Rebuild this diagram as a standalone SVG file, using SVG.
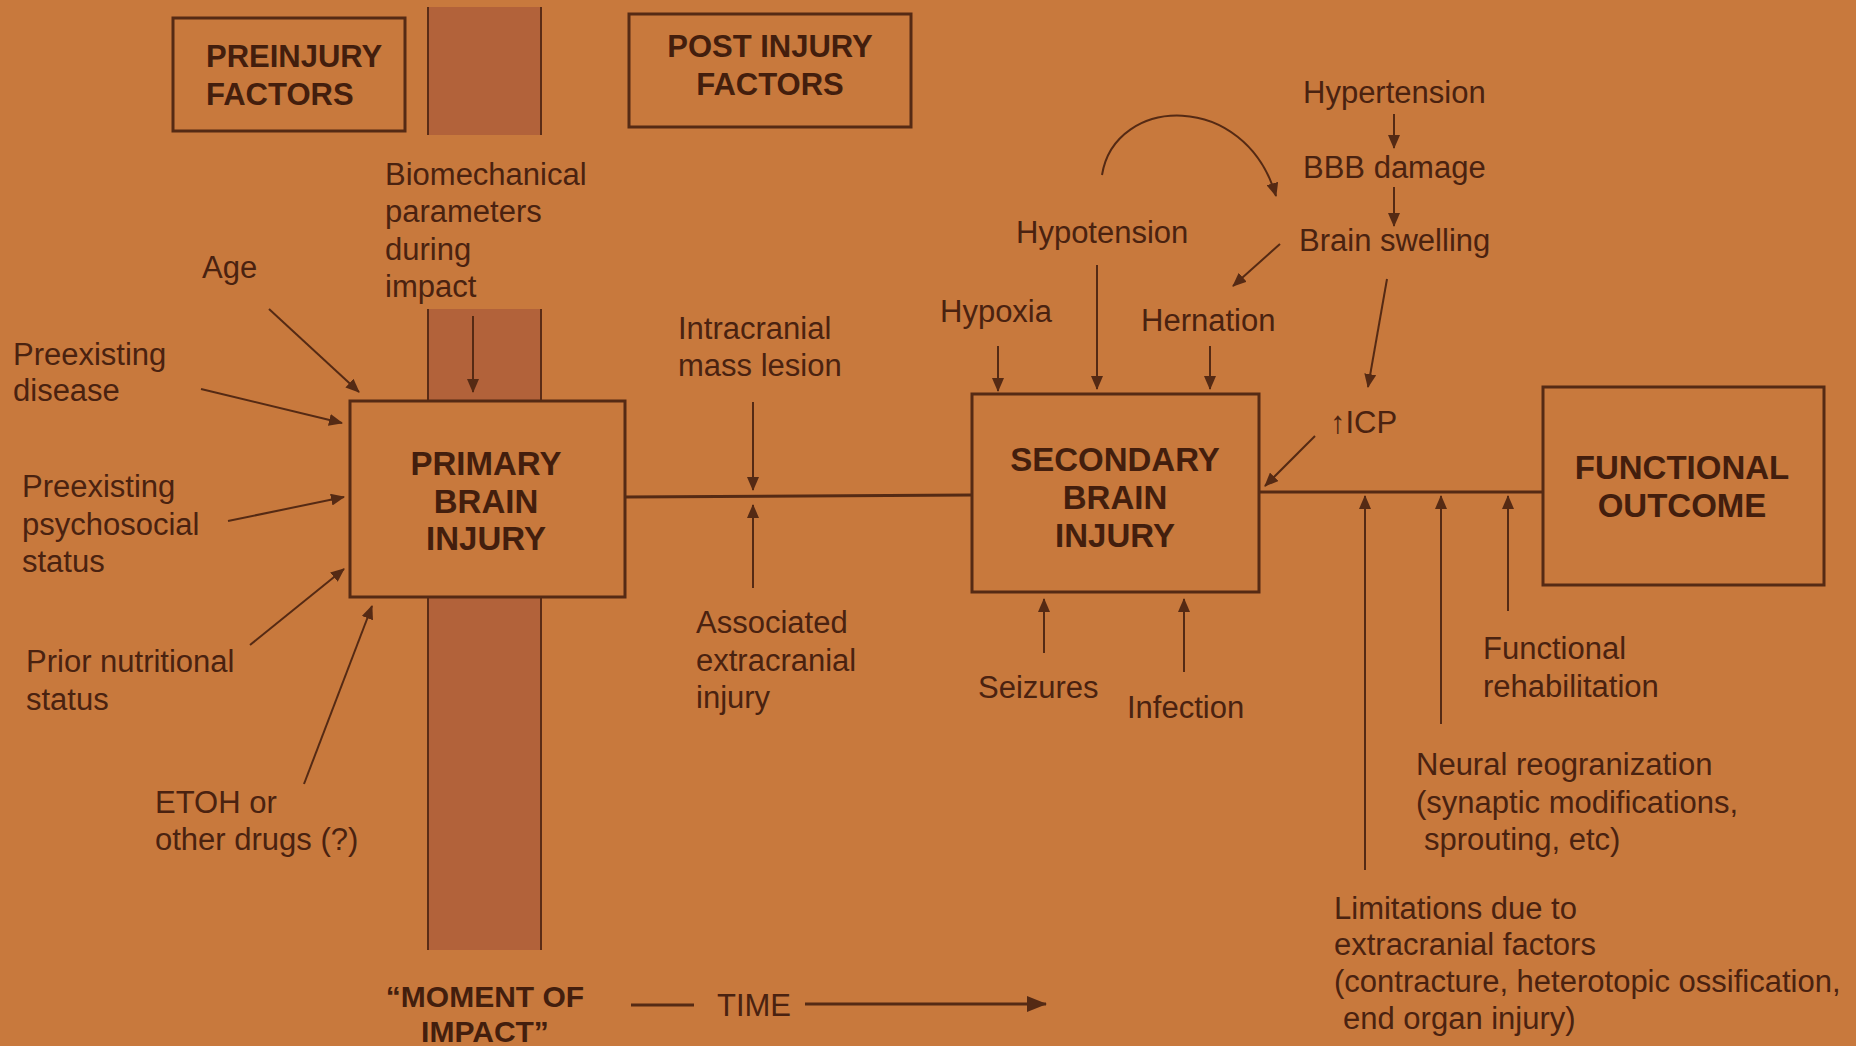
<svg xmlns="http://www.w3.org/2000/svg" width="1856" height="1046" viewBox="0 0 1856 1046">
  <defs>
    <marker id="ah" viewBox="0 0 14 12" refX="13" refY="6" markerWidth="14" markerHeight="12" markerUnits="userSpaceOnUse" orient="auto">
      <path d="M0,0 L14,6 L0,12 Z" fill="#552a14"/>
    </marker>
    <marker id="ahBig" viewBox="0 0 20 16" refX="19" refY="8" markerWidth="20" markerHeight="16" markerUnits="userSpaceOnUse" orient="auto">
      <path d="M0,0 L20,8 L0,16 Z" fill="#552a14"/>
    </marker>
    <style>
      .bg { fill: #c8793d; }
      .band { fill: #b2623a; }
      .edge { stroke: #5a2c16; stroke-width: 2; }
      .box { fill: #c8793d; stroke: #552a14; stroke-width: 3; }
      .wire { fill: none; stroke: #552a14; stroke-width: 2; }
      .main { fill: none; stroke: #552a14; stroke-width: 3; }
      .t { font-family: "Liberation Sans", Arial, sans-serif; font-size: 31px; fill: #4a2210; }
      .b { font-family: "Liberation Sans", Arial, sans-serif; font-weight: bold; fill: #431e0d; }
      .hdr { font-size: 31px; }
      .lbl { font-size: 33px; text-anchor: middle; }
    </style>
  </defs>

  <rect class="bg" x="0" y="0" width="1856" height="1046"/>

  <!-- "moment of impact" column -->
  <g id="impact-band">
    <rect class="band" x="427" y="7" width="115" height="128"/>
    <line class="edge" x1="428" y1="7" x2="428" y2="135"/>
    <line class="edge" x1="541" y1="7" x2="541" y2="135"/>
    <rect class="band" x="427" y="309" width="115" height="641"/>
    <line class="edge" x1="428" y1="309" x2="428" y2="950"/>
    <line class="edge" x1="541" y1="309" x2="541" y2="950"/>
  </g>

  <!-- header boxes -->
  <g id="preinjury">
    <rect class="box" x="173" y="18" width="232" height="113"/>
    <text class="b hdr" x="206" y="67">PREINJURY</text>
    <text class="b hdr" x="206" y="105">FACTORS</text>
  </g>
  <g id="postinjury">
    <rect class="box" x="629" y="14" width="282" height="113"/>
    <text class="b hdr" x="770" y="57" text-anchor="middle">POST INJURY</text>
    <text class="b hdr" x="770" y="95" text-anchor="middle">FACTORS</text>
  </g>

  <!-- connectors -->
  <g id="connectors">
    <!-- timeline -->
    <line class="main" x1="625" y1="497" x2="972" y2="495"/>
    <line class="main" x1="1259" y1="492" x2="1543" y2="492"/>
    <!-- into primary injury -->
    <line class="wire" x1="473" y1="316" x2="473" y2="392" marker-end="url(#ah)"/>
    <line class="wire" x1="269" y1="309" x2="359" y2="392" marker-end="url(#ah)"/>
    <line class="wire" x1="201" y1="389" x2="342" y2="423" marker-end="url(#ah)"/>
    <line class="wire" x1="228" y1="521" x2="344" y2="497" marker-end="url(#ah)"/>
    <line class="wire" x1="250" y1="645" x2="344" y2="569" marker-end="url(#ah)"/>
    <line class="wire" x1="304" y1="784" x2="372" y2="606" marker-end="url(#ah)"/>
    <!-- onto the timeline -->
    <line class="wire" x1="753" y1="402" x2="753" y2="490" marker-end="url(#ah)"/>
    <line class="wire" x1="753" y1="588" x2="753" y2="505" marker-end="url(#ah)"/>
    <!-- into secondary injury -->
    <line class="wire" x1="998" y1="346" x2="998" y2="391" marker-end="url(#ah)"/>
    <line class="wire" x1="1097" y1="265" x2="1097" y2="389" marker-end="url(#ah)"/>
    <line class="wire" x1="1210" y1="346" x2="1210" y2="389" marker-end="url(#ah)"/>
    <line class="wire" x1="1044" y1="653" x2="1044" y2="599" marker-end="url(#ah)"/>
    <line class="wire" x1="1184" y1="672" x2="1184" y2="599" marker-end="url(#ah)"/>
    <line class="wire" x1="1315" y1="436" x2="1265" y2="486" marker-end="url(#ah)"/>
    <!-- swelling cascade -->
    <line class="wire" x1="1394" y1="114" x2="1394" y2="148" marker-end="url(#ah)"/>
    <line class="wire" x1="1394" y1="187" x2="1394" y2="226" marker-end="url(#ah)"/>
    <line class="wire" x1="1280" y1="244" x2="1233" y2="286" marker-end="url(#ah)"/>
    <line class="wire" x1="1387" y1="279" x2="1368" y2="387" marker-end="url(#ah)"/>
    <path class="wire" d="M1102,175 C1115,95 1245,90 1276,196" marker-end="url(#ah)"/>
    <!-- onto the outcome line -->
    <line class="wire" x1="1365" y1="870" x2="1365" y2="496" marker-end="url(#ah)"/>
    <line class="wire" x1="1441" y1="724" x2="1441" y2="496" marker-end="url(#ah)"/>
    <line class="wire" x1="1508" y1="611" x2="1508" y2="496" marker-end="url(#ah)"/>
    <!-- time axis -->
    <line class="main" x1="631" y1="1005" x2="694" y2="1005"/>
    <line class="main" x1="805" y1="1004" x2="1046" y2="1004" marker-end="url(#ahBig)"/>
  </g>

  <!-- main boxes -->
  <g id="primary">
    <rect class="box" x="350" y="401" width="275" height="196"/>
    <text class="b lbl" x="486" y="475">PRIMARY</text>
    <text class="b lbl" x="486" y="513">BRAIN</text>
    <text class="b lbl" x="486" y="550">INJURY</text>
  </g>
  <g id="secondary">
    <rect class="box" x="972" y="394" width="287" height="198"/>
    <text class="b lbl" x="1115" y="471">SECONDARY</text>
    <text class="b lbl" x="1115" y="509">BRAIN</text>
    <text class="b lbl" x="1115" y="547">INJURY</text>
  </g>
  <g id="outcome">
    <rect class="box" x="1543" y="387" width="281" height="198"/>
    <text class="b lbl" x="1682" y="479">FUNCTIONAL</text>
    <text class="b lbl" x="1682" y="517">OUTCOME</text>
  </g>

  <!-- factor labels -->
  <g id="biomechanical">
    <text class="t" x="385" y="185">Biomechanical</text>
    <text class="t" x="385" y="222">parameters</text>
    <text class="t" x="385" y="260">during</text>
    <text class="t" x="385" y="297">impact</text>
  </g>
  <g id="age"><text class="t" x="202" y="278">Age</text></g>
  <g id="disease">
    <text class="t" x="13" y="365">Preexisting</text>
    <text class="t" x="13" y="401">disease</text>
  </g>
  <g id="psychosocial">
    <text class="t" x="22" y="497">Preexisting</text>
    <text class="t" x="22" y="535">psychosocial</text>
    <text class="t" x="22" y="572">status</text>
  </g>
  <g id="nutrition">
    <text class="t" x="26" y="672">Prior nutritional</text>
    <text class="t" x="26" y="710">status</text>
  </g>
  <g id="etoh">
    <text class="t" x="155" y="813">ETOH or</text>
    <text class="t" x="155" y="850">other drugs (?)</text>
  </g>
  <g id="mass-lesion">
    <text class="t" x="678" y="339">Intracranial</text>
    <text class="t" x="678" y="376">mass lesion</text>
  </g>
  <g id="extracranial">
    <text class="t" x="696" y="633">Associated</text>
    <text class="t" x="696" y="671">extracranial</text>
    <text class="t" x="696" y="708">injury</text>
  </g>
  <g id="hypertension"><text class="t" x="1303" y="103">Hypertension</text></g>
  <g id="bbb"><text class="t" x="1303" y="178">BBB damage</text></g>
  <g id="swelling"><text class="t" x="1299" y="251">Brain swelling</text></g>
  <g id="hypotension"><text class="t" x="1016" y="243">Hypotension</text></g>
  <g id="hypoxia"><text class="t" x="940" y="322">Hypoxia</text></g>
  <g id="hernation"><text class="t" x="1141" y="331">Hernation</text></g>
  <g id="icp"><text class="t" x="1330" y="433">↑ICP</text></g>
  <g id="seizures"><text class="t" x="978" y="698">Seizures</text></g>
  <g id="infection"><text class="t" x="1127" y="718">Infection</text></g>
  <g id="rehab">
    <text class="t" x="1483" y="659">Functional</text>
    <text class="t" x="1483" y="697">rehabilitation</text>
  </g>
  <g id="neural">
    <text class="t" x="1416" y="775">Neural reogranization</text>
    <text class="t" x="1416" y="813">(synaptic modifications,</text>
    <text class="t" x="1424" y="850">sprouting, etc)</text>
  </g>
  <g id="limitations">
    <text class="t" x="1334" y="919">Limitations due to</text>
    <text class="t" x="1334" y="955">extracranial factors</text>
    <text class="t" x="1334" y="992">(contracture, heterotopic ossification,</text>
    <text class="t" x="1343" y="1029">end organ injury)</text>
  </g>

  <!-- time axis labels -->
  <g id="moment">
    <text class="b" x="485" y="1007" font-size="30" text-anchor="middle">“MOMENT OF</text>
    <text class="b" x="485" y="1042" font-size="30" text-anchor="middle">IMPACT”</text>
  </g>
  <g id="time"><text class="t" x="717" y="1016">TIME</text></g>
</svg>
